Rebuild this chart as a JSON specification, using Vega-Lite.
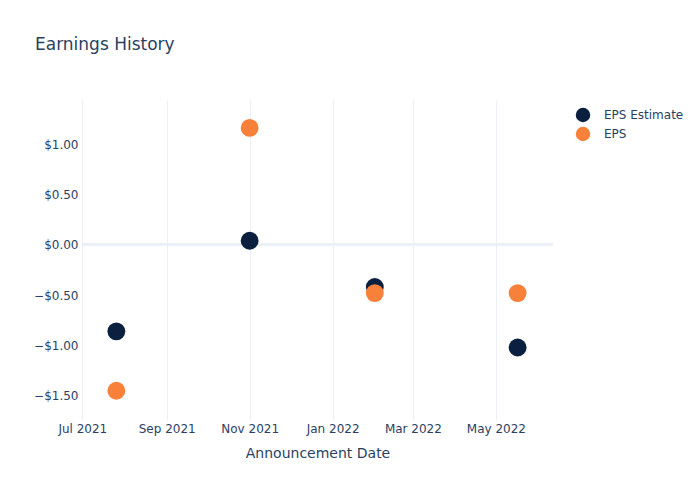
{
  "$schema": "https://vega.github.io/schema/vega-lite/v6.json",
  "width": 471,
  "height": 320,
  "autosize": {"type": "none"},
  "padding": {"left": 82, "top": 100, "right": 147, "bottom": 80},
  "background": "white",
  "title": {"text": "Earnings History", "anchor": "start", "frame": "group", "dx": -47, "offset": 46, "fontSize": 17, "font": "DejaVu Sans", "fontWeight": "normal", "color": "#2a3f5f"},
  "config": {
    "view": {"stroke": null},
    "font": "DejaVu Sans",
    "axis": {"labelFont": "DejaVu Sans", "titleFont": "DejaVu Sans", "labelColor": "#2a3f5f", "titleColor": "#2a3f5f", "labelFontSize": 12, "titleFontSize": 14, "titleFontWeight": "normal", "gridColor": "#EBF0F8", "gridWidth": 1, "domain": false, "ticks": false},
    "legend": {"labelFont": "DejaVu Sans", "labelColor": "#2a3f5f", "labelFontSize": 12}
  },
  "data": {"values": [
    {"date": "2021-07-26", "series": "EPS Estimate", "value": -0.86},
    {"date": "2021-11-01", "series": "EPS Estimate", "value": 0.04},
    {"date": "2022-02-01", "series": "EPS Estimate", "value": -0.42},
    {"date": "2022-05-17", "series": "EPS Estimate", "value": -1.02},
    {"date": "2021-07-26", "series": "EPS", "value": -1.45},
    {"date": "2021-11-01", "series": "EPS", "value": 1.16},
    {"date": "2022-02-01", "series": "EPS", "value": -0.48},
    {"date": "2022-05-17", "series": "EPS", "value": -0.48}
  ]},
  "layer": [
    {
      "mark": {"type": "rule", "color": "#EBF0F8", "strokeWidth": 2},
      "encoding": {"y": {"datum": 0, "type": "quantitative", "scale": {"domain": [-1.74, 1.437], "nice": false, "zero": false}}}
    },
    {
      "mark": {"type": "circle", "size": 320, "opacity": 1},
      "encoding": {
        "x": {"field": "date", "type": "temporal", "title": "Announcement Date",
              "scale": {"domain": [{"year": 2021, "month": 6, "date": 30, "hours": 18}, {"year": 2022, "month": 6, "date": 12}], "nice": false},
              "axis": {"format": "%b %Y", "tickCount": {"interval": "month", "step": 2}, "labelPadding": 3, "titlePadding": 12, "labelFlush": false, "labelOverlap": false}},
        "y": {"field": "value", "type": "quantitative", "title": null,
              "scale": {"domain": [-1.74, 1.437], "nice": false, "zero": false},
              "axis": {"format": "$.2f", "values": [-1.5, -1, -0.5, 0, 0.5, 1], "labelPadding": 4}},
        "color": {"field": "series", "type": "nominal", "title": null,
                  "scale": {"domain": ["EPS Estimate", "EPS"], "range": ["#0b1f3f", "#f7813a"]},
                  "legend": {"orient": "none", "legendX": 493, "legendY": 7, "symbolType": "circle", "symbolSize": 210, "symbolOpacity": 1, "rowPadding": 3, "labelOffset": 13, "padding": 0}},
        "order": {"field": "series", "sort": "descending"}
      }
    }
  ]
}
